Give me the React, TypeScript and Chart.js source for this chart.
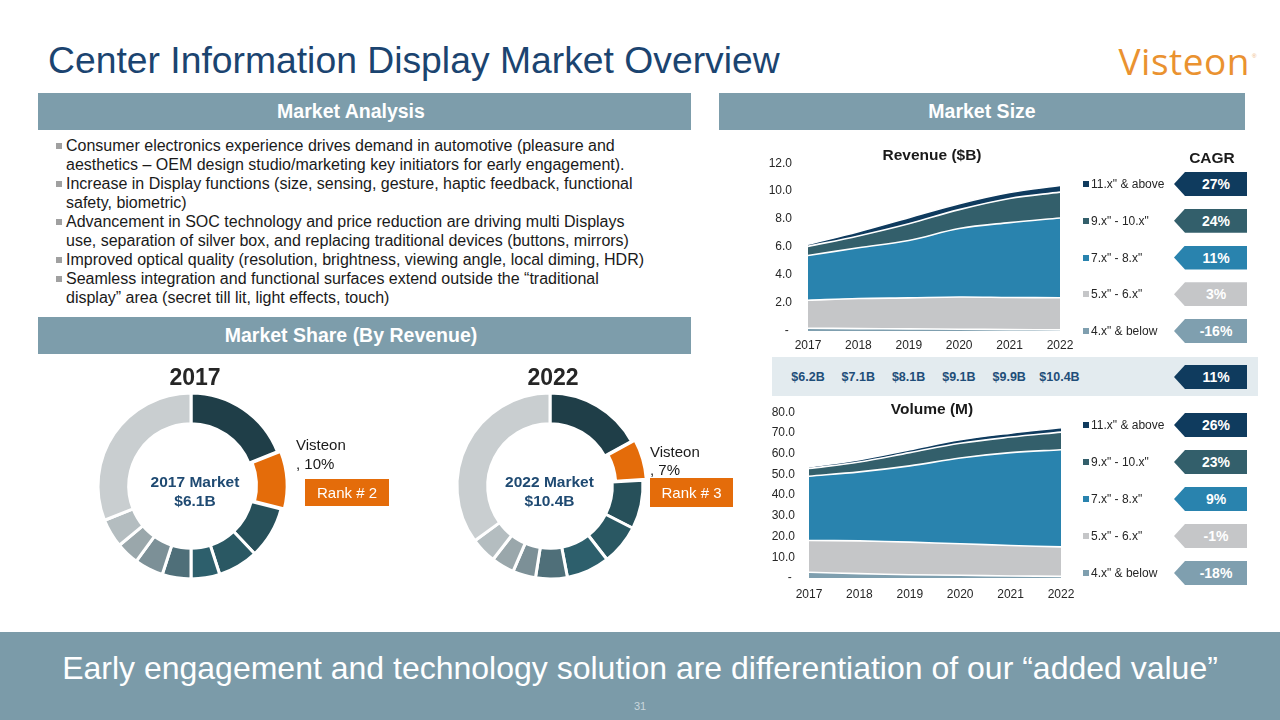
import React, { useEffect, useRef } from 'react';
import { Chart, registerables } from 'chart.js';

Chart.register(...registerables);

const FONT = '"Liberation Sans", Arial, Helvetica, sans-serif';

// ---------- data ----------
const years = ['2017', '2018', '2019', '2020', '2021', '2022'];
const seriesNames = ['4.x" & below', '5.x" - 6.x"', '7.x" - 8.x"', '9.x" - 10.x"', '11.x" & above'];
const seriesColors = ['#7F9FAF', '#C5C6C8', '#2983AE', '#335F6B', '#0F3B5E'];

// Revenue ($B), stacked bottom -> top
const rev4 = [0.2, 0.17, 0.15, 0.13, 0.1, 0.08];
const rev5 = [2.0, 2.15, 2.22, 2.3, 2.3, 2.3];
const rev7 = [3.2, 3.63, 4.1, 4.9, 5.35, 5.7];
const rev9 = [0.65, 0.85, 1.2, 1.35, 1.73, 1.85];
const rev11 = [0.15, 0.3, 0.43, 0.42, 0.42, 0.47];
const revenueTotalLabels = ['$6.2B', '$7.1B', '$8.1B', '$9.1B', '$9.9B', '$10.4B'];

// Volume (M), stacked bottom -> top
const vol4 = [2.8, 2.1, 1.6, 1.3, 1.0, 0.8];
const vol5 = [15.3, 15.8, 15.7, 15.2, 14.7, 14.2];
const vol7 = [31.0, 33.3, 36.8, 41.4, 44.8, 46.9];
const vol9 = [3.7, 4.8, 6.4, 7.1, 7.5, 8.5];
const vol11 = [0.8, 1.1, 1.4, 1.7, 1.9, 2.1];

// CAGR (listed bottom -> top, same order as series)
const revenueCagr = ['-16%', '3%', '11%', '24%', '27%'];
const volumeCagr = ['-18%', '-1%', '9%', '23%', '26%'];
const totalRevenueCagr = '11%';
const totalCagrColor = '#0F3B5E';

// Market share (clockwise from 12 o'clock), Visteon is the 2nd slice
const share2017 = [19, 10, 9, 7, 5, 5, 5, 4, 5, 31];
const share2022 = [17, 7, 8.5, 7, 7.5, 5.5, 4, 4, 4.5, 35];
const shareColors = ['#1F3E48', '#E46C0A', '#27505A', '#2A5863', '#2D5F6C', '#4F6F79', '#7C9097', '#9AA7AB', '#B4BDC0', '#C9CED0'];
const shareOffsets = [0, 9, 0, 0, 0, 0, 0, 0, 0, 0];

const bullets = [
  ['Consumer electronics experience drives demand in automotive (pleasure and', 'aesthetics \u2013 OEM design studio/marketing key initiators for early engagement).'],
  ['Increase in Display functions (size, sensing, gesture, haptic feedback, functional', 'safety, biometric)'],
  ['Advancement in SOC technology and price reduction are driving multi Displays', 'use, separation of silver box, and replacing traditional devices (buttons, mirrors)'],
  ['Improved optical quality (resolution, brightness, viewing angle, local diming, HDR)'],
  ['Seamless integration and functional surfaces extend outside the \u201ctraditional', 'display\u201d area (secret till lit, light effects, touch)'],
];

// ---------- layout geometry ----------
const REV = { left: 808, right: 1059.5, top: 163, bottom: 331, yPad: 16, xPad: 7 };
const VOL = { left: 809, right: 1061, top: 411.7, bottom: 578, yPad: 14, xPad: 9 };
const Y_AXIS_W = 40;
const X_AXIS_H = 26;
const PAD_RIGHT = 24;
const TICK_FONT = 12;

const HEADER = '#7D9DAB';

function areaConfig(series: number[][], max: number, step: number, g: any): any {
  return {
    type: 'line',
    data: {
      labels: years,
      datasets: series.map((d, i) => ({
        label: seriesNames[i],
        data: d,
        backgroundColor: seriesColors[i],
        borderColor: '#FFFFFF',
        borderWidth: 1.6,
        fill: i === 0 ? 'origin' : '-1',
        tension: 0.35,
        pointRadius: 0,
      })),
    },
    options: {
      responsive: false,
      animation: false,
      events: [],
      layout: { padding: { top: 0, right: PAD_RIGHT, left: 0, bottom: 0 } },
      plugins: { legend: { display: false }, tooltip: { enabled: false }, title: { display: false } },
      scales: {
        x: {
          grid: { display: false, drawTicks: false },
          border: { display: false },
          ticks: { padding: g.xPad, color: '#262626', font: { family: FONT, size: TICK_FONT }, maxRotation: 0, autoSkip: false },
          afterFit: (s: any) => { s.height = X_AXIS_H; },
        },
        y: {
          stacked: true,
          min: 0,
          max,
          grid: { display: false, drawTicks: false },
          border: { display: false },
          ticks: {
            stepSize: step,
            padding: g.yPad,
            color: '#262626',
            font: { family: FONT, size: TICK_FONT },
            callback: (v: any) => (Number(v) === 0 ? '- ' : Number(v).toFixed(1)),
          },
          afterFit: (s: any) => { s.width = Y_AXIS_W; },
        },
      },
    },
  };
}

function AreaChart({ series, max, step, g }: { series: number[][]; max: number; step: number; g: any }) {
  const ref = useRef<HTMLCanvasElement | null>(null);
  // the vertical scale reserves half a label height plus its tick padding above the top tick
  const topReserve = (TICK_FONT * 1.2) / 2 + g.yPad;
  const left = g.left - Y_AXIS_W;
  const top = Math.round(g.top - topReserve);
  const width = Math.round(g.right + PAD_RIGHT - left);
  const height = Math.round(g.bottom + X_AXIS_H - top);
  useEffect(() => {
    const chart = new Chart(ref.current as HTMLCanvasElement, areaConfig(series, max, step, g));
    return () => chart.destroy();
  }, []);
  return (
    <canvas
      ref={ref}
      width={width}
      height={height}
      style={{ position: 'absolute', left, top, width, height }}
    />
  );
}

function Donut({ data, cx, cy }: { data: number[]; cx: number; cy: number }) {
  const ref = useRef<HTMLCanvasElement | null>(null);
  const size = 240;
  useEffect(() => {
    const chart = new Chart(ref.current as HTMLCanvasElement, {
      type: 'doughnut',
      data: {
        datasets: [
          {
            data,
            backgroundColor: shareColors,
            borderColor: '#FFFFFF',
            borderWidth: 3,
            offset: shareOffsets,
          },
        ],
      },
      options: {
        responsive: false,
        animation: false,
        events: [],
        radius: 93,
        cutout: '67%',
        plugins: { legend: { display: false }, tooltip: { enabled: false } },
      } as any,
    } as any);
    return () => chart.destroy();
  }, []);
  return (
    <canvas
      ref={ref}
      width={size}
      height={size}
      style={{ position: 'absolute', left: cx - size / 2, top: cy - size / 2, width: size, height: size }}
    />
  );
}

function Txt({ x, y, size, children, weight = 400, color = '#1A1A1A', align = 'left', family = FONT, spacing = 0 }: any) {
  const tx = align === 'center' ? 'translateX(-50%)' : align === 'right' ? 'translateX(-100%)' : 'none';
  return (
    <div
      style={{
        position: 'absolute',
        left: x,
        top: y - size,
        height: size * 2,
        lineHeight: `${size * 2}px`,
        fontSize: size,
        fontWeight: weight,
        color,
        fontFamily: family,
        whiteSpace: 'nowrap',
        transform: tx,
        letterSpacing: spacing,
      }}
    >
      {children}
    </div>
  );
}

function Badge({ cy, color, text }: { cy: number; color: string; text: string }) {
  return (
    <div
      style={{
        position: 'absolute',
        left: 1174,
        top: cy - 12,
        width: 73,
        height: 24,
        background: color,
        clipPath: 'polygon(11px 0, 100% 0, 100% 100%, 11px 100%, 0 50%)',
        color: '#FFFFFF',
        fontFamily: FONT,
        fontWeight: 700,
        fontSize: 14,
        lineHeight: '24px',
        textAlign: 'center',
        paddingLeft: 11,
        boxSizing: 'border-box',
      }}
    >
      {text}
    </div>
  );
}

function Legend({ rows }: { rows: number[] }) {
  return (
    <>
      {rows.map((cy, r) => {
        const idx = seriesNames.length - 1 - r;
        return (
          <React.Fragment key={r}>
            <div style={{ position: 'absolute', left: 1083, top: cy - 3, width: 6, height: 6, background: seriesColors[idx] }} />
            <Txt x={1091} y={cy} size={12} color="#262626">{seriesNames[idx]}</Txt>
          </React.Fragment>
        );
      })}
    </>
  );
}

function HeaderBar({ left, top, width, text, shift = 0 }: any) {
  return (
    <div
      style={{
        position: 'absolute',
        left,
        top,
        width,
        height: 37,
        background: HEADER,
        color: '#FFFFFF',
        fontFamily: FONT,
        fontWeight: 700,
        fontSize: 19.5,
        lineHeight: '37px',
        textAlign: 'center',
        paddingRight: shift,
        boxSizing: 'border-box',
      }}
    >
      {text}
    </div>
  );
}

export default function App() {
  const revRows = [184, 220.75, 257.5, 294.25, 331];
  const volRows = [425, 462, 499, 536, 573];
  const revStep = (REV.right - REV.left) / (years.length - 1);

  return (
    <div style={{ position: 'absolute', left: 0, top: 0, width: 1280, height: 720, overflow: 'hidden', background: '#FFFFFF', fontFamily: FONT }}>
      {/* Title + logo */}
      <Txt x={48} y={60} size={37.3} color="#1B4470">Center Information Display Market Overview</Txt>
      <Txt x={1250} y={61} size={37} color="#EA9230" align="right" spacing={0.5} family='"Open Sans", "Noto Sans", sans-serif'>Visteon</Txt>
      <div style={{ position: 'absolute', left: 1252, top: 53, fontSize: 6, color: '#EDB37A', fontFamily: FONT }}>®</div>

      {/* Section headers */}
      <HeaderBar left={38} top={93} width={653} text="Market Analysis" shift={27} />
      <HeaderBar left={719} top={93} width={526} text="Market Size" />
      <HeaderBar left={38} top={317} width={653} text="Market Share (By Revenue)" shift={27} />

      {/* Bullets */}
      <div style={{ position: 'absolute', left: 52, top: 135.5, fontFamily: FONT, fontSize: 16, lineHeight: '19px', color: '#1A1A1A', whiteSpace: 'nowrap' }}>
        {bullets.map((lines, i) => (
          <div key={i} style={{ position: 'relative', paddingLeft: 14 }}>
            <div style={{ position: 'absolute', left: 4, top: 7, width: 6, height: 6, background: '#A0A0A0' }} />
            {lines.map((l, j) => (
              <div key={j}>{l}</div>
            ))}
          </div>
        ))}
      </div>

      {/* Donuts */}
      <Donut data={share2017} cx={191} cy={486} />
      <Donut data={share2022} cx={549.5} cy={486} />
      <Txt x={195} y={377} size={23} weight={700} color="#262626" align="center">2017</Txt>
      <Txt x={553} y={377} size={23} weight={700} color="#262626" align="center">2022</Txt>
      <Txt x={195} y={481} size={15.5} weight={700} color="#1F4A72" align="center">2017 Market</Txt>
      <Txt x={195} y={500} size={15.5} weight={700} color="#1F4A72" align="center">$6.1B</Txt>
      <Txt x={549.5} y={481} size={15.5} weight={700} color="#1F4A72" align="center">2022 Market</Txt>
      <Txt x={549.5} y={500} size={15.5} weight={700} color="#1F4A72" align="center">$10.4B</Txt>
      <Txt x={296} y={445} size={15} color="#1A1A1A">Visteon</Txt>
      <Txt x={296} y={464} size={15} color="#1A1A1A">, 10%</Txt>
      <div style={{ position: 'absolute', left: 305, top: 479, width: 84, height: 27, background: '#E46C0A', color: '#FFFFFF', fontFamily: FONT, fontSize: 15, lineHeight: '27px', textAlign: 'center' }}>Rank # 2</div>
      <Txt x={650} y={452} size={15} color="#1A1A1A">Visteon</Txt>
      <Txt x={650} y={470} size={15} color="#1A1A1A">, 7%</Txt>
      <div style={{ position: 'absolute', left: 650, top: 478, width: 83, height: 29, background: '#E46C0A', color: '#FFFFFF', fontFamily: FONT, fontSize: 15, lineHeight: '29px', textAlign: 'center' }}>Rank # 3</div>

      {/* Revenue chart */}
      <AreaChart series={[rev4, rev5, rev7, rev9, rev11]} max={12} step={2} g={REV} />
      <Txt x={932} y={154} size={15.5} weight={700} color="#1A1A1A" align="center">Revenue ($B)</Txt>
      <Txt x={1212} y={157} size={15.5} weight={700} color="#1A1A1A" align="center">CAGR</Txt>
      <Legend rows={revRows} />
      {revRows.map((cy, r) => {
        const idx = seriesNames.length - 1 - r;
        return <Badge key={r} cy={cy} color={seriesColors[idx]} text={revenueCagr[idx]} />;
      })}

      {/* Revenue totals strip */}
      <div style={{ position: 'absolute', left: 772, top: 357, width: 486, height: 39, background: '#E3EBEF' }} />
      {revenueTotalLabels.map((t, i) => (
        <Txt key={i} x={REV.left + i * revStep} y={377} size={12.5} weight={700} color="#1F4E79" align="center">{t}</Txt>
      ))}
      <Badge cy={377} color={totalCagrColor} text={totalRevenueCagr} />

      {/* Volume chart */}
      <AreaChart series={[vol4, vol5, vol7, vol9, vol11]} max={80} step={10} g={VOL} />
      <Txt x={932} y={408} size={15.5} weight={700} color="#1A1A1A" align="center">Volume (M)</Txt>
      <Legend rows={volRows} />
      {volRows.map((cy, r) => {
        const idx = seriesNames.length - 1 - r;
        return <Badge key={r} cy={cy} color={seriesColors[idx]} text={volumeCagr[idx]} />;
      })}

      {/* Bottom banner */}
      <div style={{ position: 'absolute', left: 0, top: 632, width: 1280, height: 88, background: '#7B9BA9' }} />
      <Txt x={640} y={668} size={32} color="#FFFFFF" align="center">Early engagement and technology solution are differentiation of our {'\u201c'}added value{'\u201d'}</Txt>
      <Txt x={640} y={706} size={11} color="#C9D6DC" align="center">31</Txt>
    </div>
  );
}
